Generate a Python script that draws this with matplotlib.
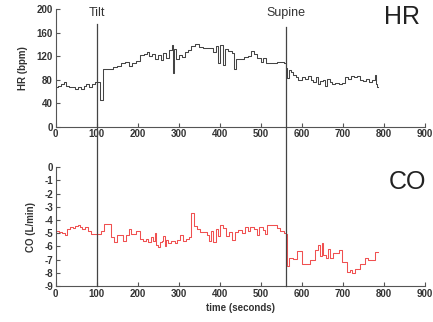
import matplotlib
matplotlib.use("Agg")
import matplotlib.pyplot as plt
from matplotlib.transforms import blended_transform_factory
from matplotlib.lines import Line2D

plt.rcParams['font.family'] = ['Liberation Sans', 'DejaVu Sans']
plt.rcParams['axes.unicode_minus'] = False

# Heart rate (step series: start time, value)
hr_t = [0, 5, 12, 20, 25, 32, 40, 48, 55, 62, 68, 75, 82, 88, 95, 108, 115, 130, 140, 150,
        160, 170, 180, 187, 195, 205, 215, 222, 228, 235, 242, 250, 257, 263, 270, 277, 283, 286, 289, 294,
        300, 308, 315, 322, 330, 340, 350, 360, 385, 392, 397, 402, 407, 412, 420, 430, 436, 440, 450, 460,
        470, 477, 485, 492, 500, 505, 512, 540, 556, 562, 565, 568, 574, 580, 586, 592, 600, 608, 615, 622,
        628, 634, 640, 645, 652, 658, 662, 668, 675, 682, 690, 698, 705, 712, 720, 728, 735, 742, 750, 758,
        765, 772, 778, 782, 785, 787]
hr_v = [68, 70, 72, 76, 70, 68, 67, 65, 68, 64, 70, 72, 67, 73, 76, 45, 98, 99, 102, 104,
        108, 111, 103, 108, 112, 122, 124, 128, 121, 124, 116, 123, 114, 126, 117, 130, 139, 92, 133, 116,
        122, 118, 128, 131, 138, 141, 136, 134, 128, 137, 108, 139, 105, 132, 129, 125, 98, 115, 116, 119,
        121, 129, 124, 117, 110, 117, 109, 110, 108, 100, 83, 97, 94, 88, 84, 80, 85, 82, 86, 80,
        77, 84, 72, 78, 80, 70, 82, 76, 72, 74, 72, 75, 85, 82, 87, 84, 86, 80, 78, 81,
        76, 80, 88, 73, 68, 68]

# Cardiac output change (step series: start time, value)
co_t = [0, 8, 15, 22, 28, 35, 42, 48, 55, 60, 65, 72, 78, 85, 110, 117, 135, 142, 150, 165,
        172, 178, 183, 195, 205, 212, 220, 226, 232, 237, 242, 245, 250, 255, 260, 263, 266, 270, 275, 282,
        290, 296, 303, 310, 318, 325, 330, 337, 345, 352, 370, 375, 380, 385, 390, 395, 400, 408, 415, 422,
        430, 437, 445, 455, 463, 470, 475, 483, 490, 495, 505, 510, 515, 540, 548, 556, 561, 564, 570, 580,
        588, 600, 620, 633, 641, 645, 650, 653, 660, 665, 670, 677, 690, 698, 710, 718, 723, 731, 743, 755,
        763, 779, 787]
co_v = [-4.8, -4.9, -4.95, -5.15, -4.65, -4.5, -4.6, -4.45, -4.4, -4.55, -4.7, -4.5, -4.8, -5.05, -4.85, -4.3, -5.3, -5.65, -5.1, -5.6,
        -5.1, -4.7, -5.05, -4.8, -5.4, -5.55, -5.4, -5.7, -5.3, -5.6, -4.95, -5.9, -6.05, -5.7, -5.6, -5.2, -6.0, -5.5, -5.75, -5.55,
        -5.75, -5.5, -5.15, -5.6, -5.4, -5.3, -3.5, -4.45, -4.7, -4.9, -5.1, -5.6, -4.8, -5.7, -4.7, -5.2, -4.4, -4.6, -5.2, -4.9,
        -5.5, -4.9, -4.75, -4.95, -4.5, -4.85, -4.5, -4.7, -5.1, -4.55, -4.75, -5.05, -4.35, -4.6, -4.85, -4.95, -5.05, -7.5, -6.9, -6.95,
        -6.35, -7.3, -7.05, -6.3, -5.9, -6.7, -5.75, -6.65, -6.9, -6.2, -6.85, -6.5, -6.3, -7.2, -7.95, -7.8, -8.0, -7.7, -7.3, -6.9,
        -7.05, -6.45, -6.45]

x_ticks = [0, 100, 200, 300, 400, 500, 600, 700, 800, 900]
hr_ticks = [0, 40, 80, 120, 160, 200]
co_ticks = [0, -1, -2, -3, -4, -5, -6, -7, -8, -9]
events = [(100, "Tilt"), (562, "Supine")]

fig = plt.figure(figsize=(4.33, 3.22), dpi=100)
ax1 = fig.add_axes([0.1286, 0.6065, 0.852, 0.3646])
ax2 = fig.add_axes([0.1286, 0.1118, 0.852, 0.3686])

axis_col = '#555555'
text_col = '#333333'
for ax in (ax1, ax2):
    for s in ('top', 'right'):
        ax.spines[s].set_visible(False)
    for s in ('left', 'bottom'):
        ax.spines[s].set_color(axis_col)
        ax.spines[s].set_linewidth(0.8)
    ax.set_xlim(0, 900)
    ax.set_xticks(x_ticks)
    ax.tick_params(direction='in', length=3, width=0.8, colors=axis_col,
                   labelsize=7, labelcolor=text_col, pad=2)

ax1.step(hr_t, hr_v, where='post', color='#444444', lw=0.75)
ax1.set_ylim(0, 200)
ax1.set_yticks(hr_ticks)
ax1.set_ylabel("HR (bpm)", fontsize=7, fontweight='bold', color=text_col, labelpad=6)

ax2.step(co_t, co_v, where='post', color='#f05050', lw=0.75)
ax2.set_ylim(-9, 0)
ax2.set_yticks(co_ticks)
ax2.set_ylabel("CO (L/min)", fontsize=7, fontweight='bold', color=text_col, labelpad=6)
ax2.set_xlabel("time (seconds)", fontsize=7, fontweight='bold', color=text_col, labelpad=3)

for ax in (ax1, ax2):
    for lbl in ax.get_xticklabels() + ax.get_yticklabels():
        lbl.set_fontweight('bold')

tr = blended_transform_factory(ax1.transData, fig.transFigure)
tops = [0.925, 0.916]
for (xe, name), top in zip(events, tops):
    fig.add_artist(Line2D([xe, xe], [top, 0.113], transform=tr, color='#444444', lw=0.9))
    fig.text(xe, 0.96, name, transform=tr, ha='center', va='center', fontsize=9, color=text_col)

fig.text(0.928, 0.948, "HR", ha='center', va='center', fontsize=18, color='#222222')
fig.text(0.94, 0.435, "CO", ha='center', va='center', fontsize=18, color='#222222')

fig.savefig("out.png", dpi=100)
